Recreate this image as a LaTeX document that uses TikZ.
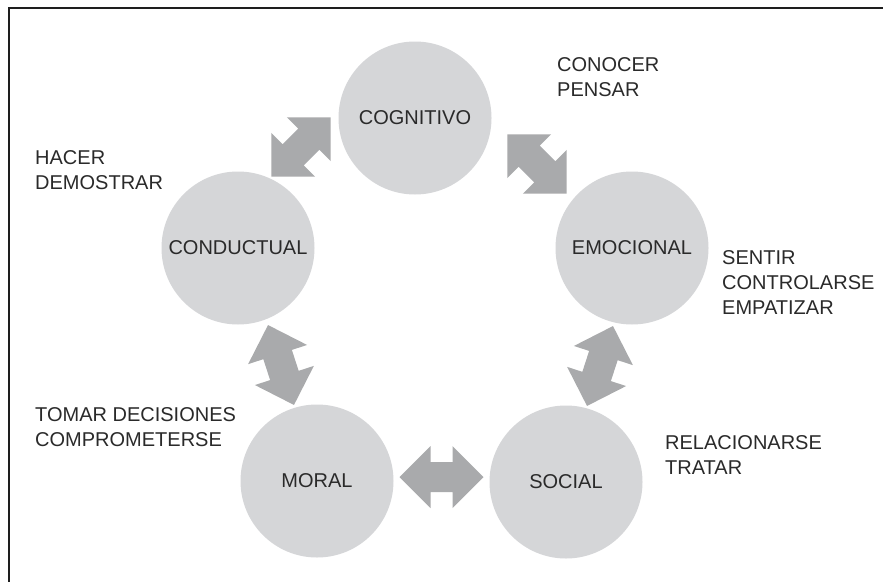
\documentclass[tikz,border=0pt]{standalone}
\usepackage{fontspec}
\setmainfont{Liberation Sans}
\definecolor{circgray}{HTML}{D5D6D8}
\definecolor{arrgray}{HTML}{A9AAAC}
\definecolor{txtgray}{HTML}{2A2A2A}
\definecolor{framecol}{HTML}{1E1E1E}
\begin{document}
\begin{tikzpicture}[x=1pt,y=-1pt,
  circ/.style={circle, fill=circgray, minimum size=153pt, inner sep=0pt, text=txtgray, font=\fontsize{20}{25}\selectfont},
  lbl/.style={anchor=north west, inner sep=0pt, align=left, text=txtgray, font=\fontsize{20}{25}\selectfont},
  dblarrow/.pic={\fill[arrgray] (-42,0) -- (-11,31) -- (-11,15) -- (11,15) -- (11,31) -- (42,0) -- (11,-31) -- (11,-15) -- (-11,-15) -- (-11,-31) -- cycle;}
]
\useasboundingbox (0,0) rectangle (883,581);
\fill[white] (0,0) rectangle (883,581);
% frame
\draw[framecol, line width=2pt] (9,590) -- (9,8) -- (890,8);

% circles
\node[circ] (cog)  at (415,118) {COGNITIVO};
\node[circ] (cond) at (238,248) {CONDUCTUAL};
\node[circ] (emo)  at (632,248) {EMOCIONAL};
\node[circ] (mor)  at (317,481) {MORAL};
\node[circ] (soc)  at (566,482) {SOCIAL};

% double arrows
\pic[rotate=45]  (arA) at (301,147) {dblarrow};
\pic[rotate=-45] (arB) at (537,164) {dblarrow};
\pic[rotate=-72] (arC) at (281,365) {dblarrow};
\pic[rotate=72]  (arD) at (600,366) {dblarrow};
\pic[rotate=0]   (arE) at (441.5,477) {dblarrow};

% labels
\node[lbl] (lcog)  at (557,57)  {CONOCER\\PENSAR};
\node[lbl] (lcond) at (35,150)  {HACER\\DEMOSTRAR};
\node[lbl] (lemo)  at (722,250) {SENTIR\\CONTROLARSE\\EMPATIZAR};
\node[lbl] (lmor)  at (35,407)  {TOMAR DECISIONES\\COMPROMETERSE};
\node[lbl] (lsoc)  at (665,435) {RELACIONARSE\\TRATAR};
\end{tikzpicture}
\end{document}
